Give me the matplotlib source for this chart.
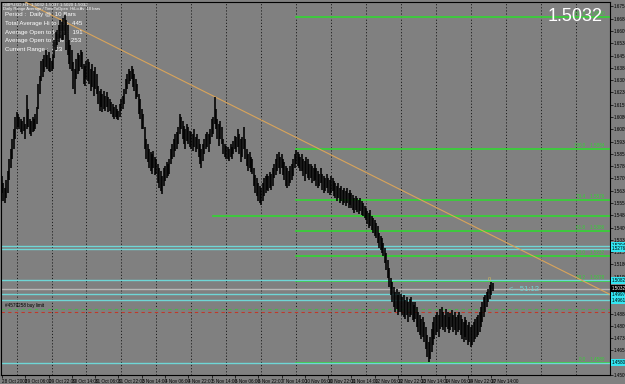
import numpy as np
import pandas as pd
import matplotlib
matplotlib.use('Agg')
import matplotlib.pyplot as plt
import matplotlib.transforms as mtransforms

plt.rcParams['font.family'] = ['Liberation Sans', 'DejaVu Sans']

# header texts
symbol_info = 'GBPUSD,H1  1.5032 1.5037 1.5020 1.5032'
indicator_info = 'Daily Range Average / TimeToOpen  HiLo Av  10 bars'
stats_lines = ['Period :  Daily @  10 Bars',
               'Total Average Hi to Lo :  445',
               'Average Open to High :  191',
               'Average Open to Low :  253',
               'Current Range :  423']

first_bar = '2008-10-28 14:00'

# H1 bars, price in points (x 1e-4)
high_pts = [
    15717, 15675, 15645, 15693, 15753, 15826, 15887, 15947, 16008, 16080,
    16110, 16098, 16080, 16068, 16056, 16080, 16038, 16213, 16129, 16068,
    16056, 16080, 16068, 16098, 16141, 16280, 16328, 16419, 16431, 16461,
    16492, 16461, 16479, 16443, 16419, 16461, 16552, 16600, 16613, 16643,
    16673, 16661, 16685, 16703, 16673, 16643, 16552, 16522, 16492, 16413,
    16371, 16431, 16473, 16461, 16492, 16479, 16401, 16389, 16419, 16431,
    16413, 16371, 16401, 16358, 16383, 16340, 16268, 16237, 16250, 16219,
    16237, 16207, 16231, 16201, 16189, 16171, 16159, 16141, 16153, 16129,
    16116, 16159, 16189, 16207, 16250, 16310, 16340, 16371, 16358, 16389,
    16371, 16340, 16310, 16280, 16219, 16189, 16129, 16098, 16020, 15947,
    15917, 15887, 15868, 15856, 15874, 15838, 15826, 15796, 15766, 15753,
    15717, 15766, 15778, 15808, 15796, 15826, 15887, 15917, 15947, 15977,
    15989, 16020, 16098, 16080, 16056, 16026, 16008, 16038, 16020, 15995,
    15989, 15977, 16008, 15959, 15977, 15947, 15917, 15887, 15917, 15947,
    15977, 15989, 15977, 16008, 16068, 16080, 16201, 16129, 16068, 16038,
    16056, 16020, 15947, 15917, 15905, 15899, 15887, 15917, 15899, 15935,
    15965, 15959, 16008, 15977, 15947, 15959, 16020, 15947, 15887, 15856,
    15868, 15838, 15826, 15766, 15723, 15705, 15675, 15657, 15645, 15675,
    15705, 15717, 15735, 15717, 15747, 15735, 15766, 15796, 15826, 15856,
    15868, 15838, 15856, 15826, 15808, 15778, 15766, 15753, 15778, 15796,
    15826, 15856, 15881, 15868, 15856, 15838, 15856, 15826, 15814, 15838,
    15826, 15796, 15796, 15778, 15766, 15796, 15766, 15753, 15735, 15766,
    15735, 15717, 15705, 15729, 15705, 15693, 15717, 15705, 15687, 15675,
    15657, 15675, 15645, 15657, 15632, 15645, 15626, 15645, 15614, 15632,
    15614, 15602, 15584, 15596, 15584, 15572, 15584, 15566, 15554, 15536,
    15524, 15505, 15493, 15511, 15475, 15463, 15451, 15433, 15415, 15372,
    15354, 15342, 15312, 15282, 15251, 15209, 15161, 15100, 15070, 15040,
    15009, 15027, 14991, 15009, 14997, 14979, 14991, 14961, 14979, 14949,
    14967, 14979, 14949, 14931, 14949, 14919, 14888, 14870, 14846, 14858,
    14828, 14798, 14749, 14707, 14737, 14785, 14828, 14858, 14870, 14888,
    14870, 14906, 14919, 14888, 14870, 14906, 14888, 14858, 14882, 14900,
    14870, 14888, 14858, 14870, 14888, 14870, 14846, 14828, 14858, 14840,
    14810, 14828, 14798, 14810, 14828, 14846, 14858, 14870, 14888, 14919,
    14949, 14979, 14991, 15009, 15027, 15052, 15070, 15064,
]
low_pts = [
    15614, 15566, 15554, 15584, 15614, 15693, 15766, 15826, 15887, 15947,
    16008, 16020, 16008, 15989, 15977, 15995, 15947, 16008, 16020, 15977,
    15965, 15989, 15995, 16008, 16038, 16129, 16219, 16298, 16322, 16352,
    16383, 16371, 16358, 16352, 16358, 16371, 16443, 16492, 16522, 16540,
    16564, 16552, 16552, 16582, 16492, 16461, 16401, 16371, 16358, 16250,
    16219, 16310, 16340, 16358, 16383, 16371, 16280, 16268, 16310, 16298,
    16280, 16237, 16262, 16207, 16250, 16219, 16159, 16116, 16141, 16110,
    16129, 16116, 16141, 16110, 16116, 16098, 16080, 16068, 16080, 16068,
    16062, 16080, 16116, 16129, 16159, 16219, 16250, 16280, 16298, 16310,
    16262, 16237, 16189, 16201, 16098, 16068, 16008, 16008, 15887, 15826,
    15808, 15766, 15753, 15735, 15766, 15723, 15735, 15675, 15645, 15626,
    15608, 15657, 15687, 15705, 15717, 15735, 15796, 15826, 15838, 15874,
    15887, 15917, 15977, 16008, 15947, 15917, 15887, 15935, 15917, 15899,
    15887, 15874, 15899, 15868, 15887, 15838, 15796, 15766, 15814, 15856,
    15887, 15899, 15868, 15917, 15959, 15977, 16038, 16008, 15947, 15905,
    15947, 15917, 15856, 15838, 15826, 15826, 15814, 15838, 15826, 15856,
    15887, 15868, 15899, 15856, 15808, 15838, 15887, 15826, 15778, 15753,
    15766, 15747, 15735, 15657, 15614, 15596, 15566, 15554, 15542, 15566,
    15596, 15614, 15632, 15626, 15645, 15632, 15657, 15705, 15723, 15753,
    15766, 15735, 15766, 15723, 15693, 15657, 15645, 15657, 15675, 15693,
    15717, 15766, 15796, 15778, 15766, 15753, 15753, 15717, 15687, 15735,
    15705, 15693, 15705, 15675, 15687, 15693, 15657, 15645, 15657, 15675,
    15632, 15614, 15626, 15645, 15614, 15602, 15614, 15626, 15596, 15584,
    15566, 15584, 15554, 15566, 15542, 15554, 15536, 15554, 15524, 15542,
    15524, 15511, 15493, 15511, 15499, 15487, 15505, 15481, 15475, 15463,
    15451, 15427, 15403, 15415, 15390, 15372, 15354, 15342, 15312, 15282,
    15269, 15251, 15233, 15191, 15148, 15100, 15040, 14991, 14949, 14919,
    14888, 14906, 14870, 14888, 14888, 14870, 14858, 14846, 14870, 14828,
    14858, 14870, 14840, 14828, 14846, 14798, 14767, 14749, 14725, 14737,
    14707, 14664, 14616, 14586, 14604, 14646, 14689, 14725, 14749, 14767,
    14737, 14785, 14798, 14779, 14767, 14798, 14785, 14761, 14779, 14798,
    14767, 14779, 14749, 14767, 14779, 14749, 14725, 14707, 14737, 14719,
    14689, 14707, 14677, 14689, 14707, 14725, 14737, 14749, 14767, 14798,
    14828, 14858, 14888, 14919, 14949, 14967, 14991, 15015,
]

bid = 1.5032
fib_low, fib_high = 1.4580, 1.5884
fib_ratios = [0.0, 38.2, 50.0, 61.8, 76.4, 100.0, 161.8]
fib_first_bar = 202
green_level = 1.5475          # extra green line
green_level_bar = 145
cyan_levels = [1.5294, 1.5276, 1.5082, 1.4997, 1.4961, 1.4580]
order_buy = 1.4906
order_sl = 1.4888
order_text = '#4579258 buy limit'
trend_bars = [16, 400]
trend_prices = [1.6782, 1.5075]
timer_text = '<---51:12'
bar_count_text = '0'

BG = '#808080'
GREEN = '#36d236'
CYAN = '#6fd6d6'

high = np.array(high_pts) / 1e4
low = np.array(low_pts) / 1e4
n = len(high)
idx = np.arange(n)

times = pd.date_range(first_bar, periods=24 * 40, freq='h')
times = times[times.dayofweek < 5][:n]

fig = plt.figure(figsize=(6.25, 3.84), dpi=100, facecolor=BG)
ax = fig.add_axes([1 / 625, 9 / 384, 609 / 625, 373 / 384], facecolor=BG)
x0, x1 = -0.69, 417.6
ax.set_xlim(x0, x1)
ax.set_ylim(1.4525, 1.6782)
tr = mtransforms.blended_transform_factory(ax.transAxes, ax.transData)

# daily separators
midnights = idx[times.hour == 0]
for gx in np.arange(midnights[0], x1, 24):
    ax.axvline(gx, color='#1e1e1e', lw=0.7, ls=(0, (1.2, 2.0)), zorder=1)

# horizontal levels
for lv in cyan_levels:
    ax.axhline(lv, color=CYAN, lw=1.0, zorder=2.5)
ax.axhline(bid, color='#b8b8b8', lw=1.0, zorder=2.5)
ax.axhline(order_buy, color='#4caf50', lw=0.8, ls=(0, (3, 3)), zorder=2)
ax.axhline(order_sl, color='#c0392b', lw=0.8, ls=(0, (3, 3)), zorder=2)
ax.text(0.006, order_buy + 0.0006, order_text, transform=tr,
        fontsize=3.3, color='black', va='bottom')

# fibo
rng = fib_high - fib_low
fib_levels = [fib_low + rng * r / 100 for r in fib_ratios]
for r, lv in zip(fib_ratios, fib_levels):
    ax.axhline(lv, xmin=(fib_first_bar - x0) / (x1 - x0), color=GREEN, lw=1.25, zorder=2)
    ax.text(x1 - 4, lv + 0.0004, f'{r:.1f}    {lv:.4f}', fontsize=3.3, color=GREEN,
            ha='right', va='bottom')
ax.axhline(green_level, xmin=(green_level_bar - x0) / (x1 - x0), color=GREEN, lw=1.25, zorder=2)

# trend line
slope = (trend_prices[1] - trend_prices[0]) / (trend_bars[1] - trend_bars[0])
ax.plot([trend_bars[0], x1], [trend_prices[0], trend_prices[0] + slope * (x1 - trend_bars[0])],
        color='#d9a45a', lw=0.8, zorder=3)

# bars
ax.vlines(idx, low, high, color='black', lw=1.15, zorder=4)

ax.text(n - 3, high[-1] + 0.0012, bar_count_text, fontsize=4, color='#d8c060', ha='center')
ax.text(n + 10, bid - 0.0004, timer_text, fontsize=5.5, color=CYAN, va='center')

# header texts
ax.text(0.004, 0.998, symbol_info, transform=ax.transAxes, fontsize=3.2, color='white', va='top')
ax.text(0.004, 0.987, indicator_info, transform=ax.transAxes, fontsize=3.0, color='white', va='top')
for k, s in enumerate(stats_lines):
    ax.text(0.007, 0.972 - k * 0.0232, s, transform=ax.transAxes, fontsize=4.4, color='white', va='top')
ax.text(0.9885, 0.961, f'{bid:.4f}', transform=ax.transAxes, fontsize=13, color='white',
        ha='right', va='center')

# axes
for sp in ax.spines.values():
    sp.set_color('black')
    sp.set_linewidth(0.8)
ax.yaxis.tick_right()
yt = np.arange(1.4505, 1.6790, 0.0075)
ax.set_yticks(yt)
ax.set_yticklabels([f'{v:.4f}' for v in yt])
ax.tick_params(axis='y', labelsize=3.3, length=2, width=0.5, pad=1, colors='black')

xt = idx[::16]
labels = []
for i in xt:
    t = times[i]
    if i == 0:
        labels.append(f'{t.day} {t.strftime("%b %Y")}')
    else:
        labels.append(f'{t.day} {t.strftime("%b %H:%M")}')
ax.set_xticks(xt)
ax.set_xticklabels(labels, ha='left')
ax.tick_params(axis='x', labelsize=3.3, length=2, width=0.5, pad=1, colors='black')

# price tags on right scale
for lv in cyan_levels:
    ax.text(1.003, lv, f'{lv:.4f}', transform=tr, fontsize=3.3, color='black', va='center',
            bbox=dict(boxstyle='square,pad=0.25', fc='#33e6f2', ec='none'), clip_on=False, zorder=6)
ax.text(1.003, bid, f'{bid:.4f}', transform=tr, fontsize=3.3, color='white', va='center',
        bbox=dict(boxstyle='square,pad=0.25', fc='black', ec='none'), clip_on=False, zorder=6)

fig.savefig('out.png', dpi=100, facecolor=BG)
